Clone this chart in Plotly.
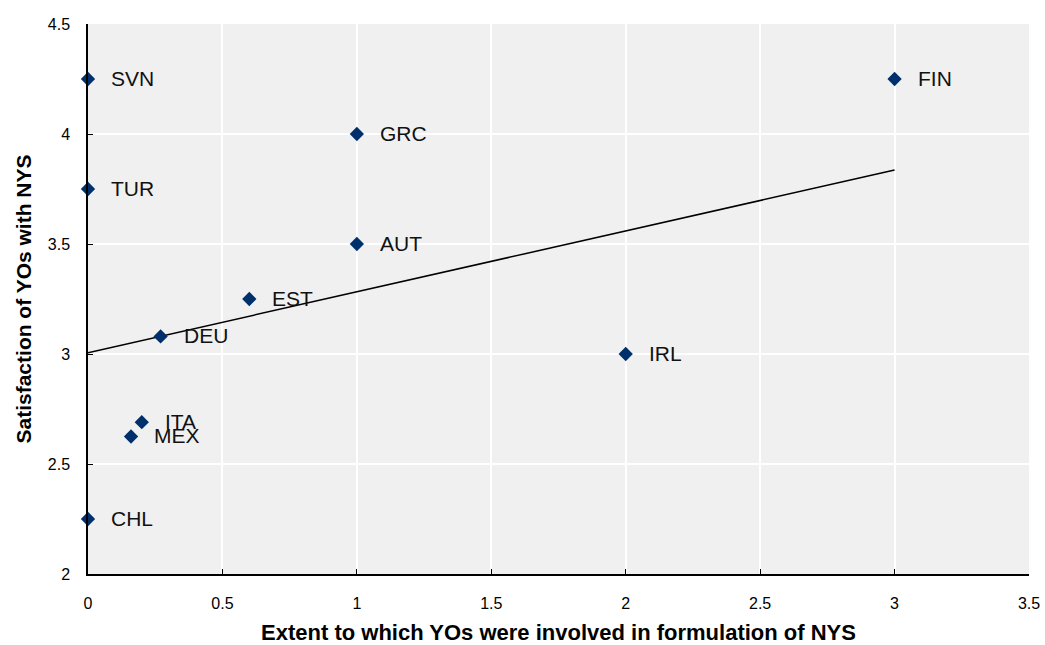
import plotly.graph_objects as go

# Data
countries = ['SVN', 'FIN', 'GRC', 'TUR', 'AUT', 'EST', 'DEU', 'IRL', 'ITA', 'MEX', 'CHL']
involvement = [0, 3, 1, 0, 1, 0.6, 0.27, 2, 0.2, 0.16, 0]
satisfaction = [4.25, 4.25, 4.0, 3.75, 3.5, 3.25, 3.08, 3.0, 2.69, 2.625, 2.25]

# trend line end points
trend_x = [0, 3]
trend_y = [3.006, 3.836]

FONT = 'Liberation Sans, Arial, sans-serif'
NAVY = '#00306b'

fig = go.Figure()

fig.add_trace(go.Scatter(x=trend_x, y=trend_y, mode='lines',
                         line=dict(color='black', width=1.5),
                         hoverinfo='skip', showlegend=False))

fig.add_trace(go.Scatter(x=involvement, y=satisfaction, mode='markers',
                         marker=dict(symbol='diamond', size=11, color=NAVY),
                         cliponaxis=False, showlegend=False))

for c, xv, yv in zip(countries, involvement, satisfaction):
    fig.add_annotation(x=xv, y=yv, text=c, showarrow=False,
                       xanchor='left', yanchor='middle', xshift=21, yshift=1,
                       font=dict(family=FONT, size=21, color='#111111'))

fig.update_layout(
    width=1045, height=645,
    margin=dict(l=88, r=16, t=24, b=71),
    paper_bgcolor='white', plot_bgcolor='#f0f0f0',
    font=dict(family=FONT, size=16, color='black'),
    showlegend=False,
)

fig.update_xaxes(range=[0, 3.5], dtick=0.5, showgrid=True, gridcolor='white', gridwidth=2,
                 showline=True, linecolor='black', linewidth=1.5, zeroline=False,
                 ticks='inside', ticklen=5, tickcolor='black', ticklabelstandoff=14,
                 tickfont=dict(size=16), automargin=False,
                 title=dict(text='<b>Extent to which YOs were involved in formulation of NYS</b>',
                            font=dict(size=22), standoff=14))

fig.update_yaxes(range=[2, 4.5], dtick=0.5, showgrid=True, gridcolor='white', gridwidth=2,
                 showline=True, linecolor='black', linewidth=1.5, zeroline=False,
                 ticks='inside', ticklen=5, tickcolor='black', ticklabelstandoff=13,
                 tickfont=dict(size=16), automargin=False,
                 title=dict(text='<b>Satisfaction of YOs with NYS</b>',
                            font=dict(size=21), standoff=10))

# drop the default page margin so the figure sits at the window's corner
fig.write_html("out.html", config={'displayModeBar': False},
               post_script="document.body.style.margin='0';")
